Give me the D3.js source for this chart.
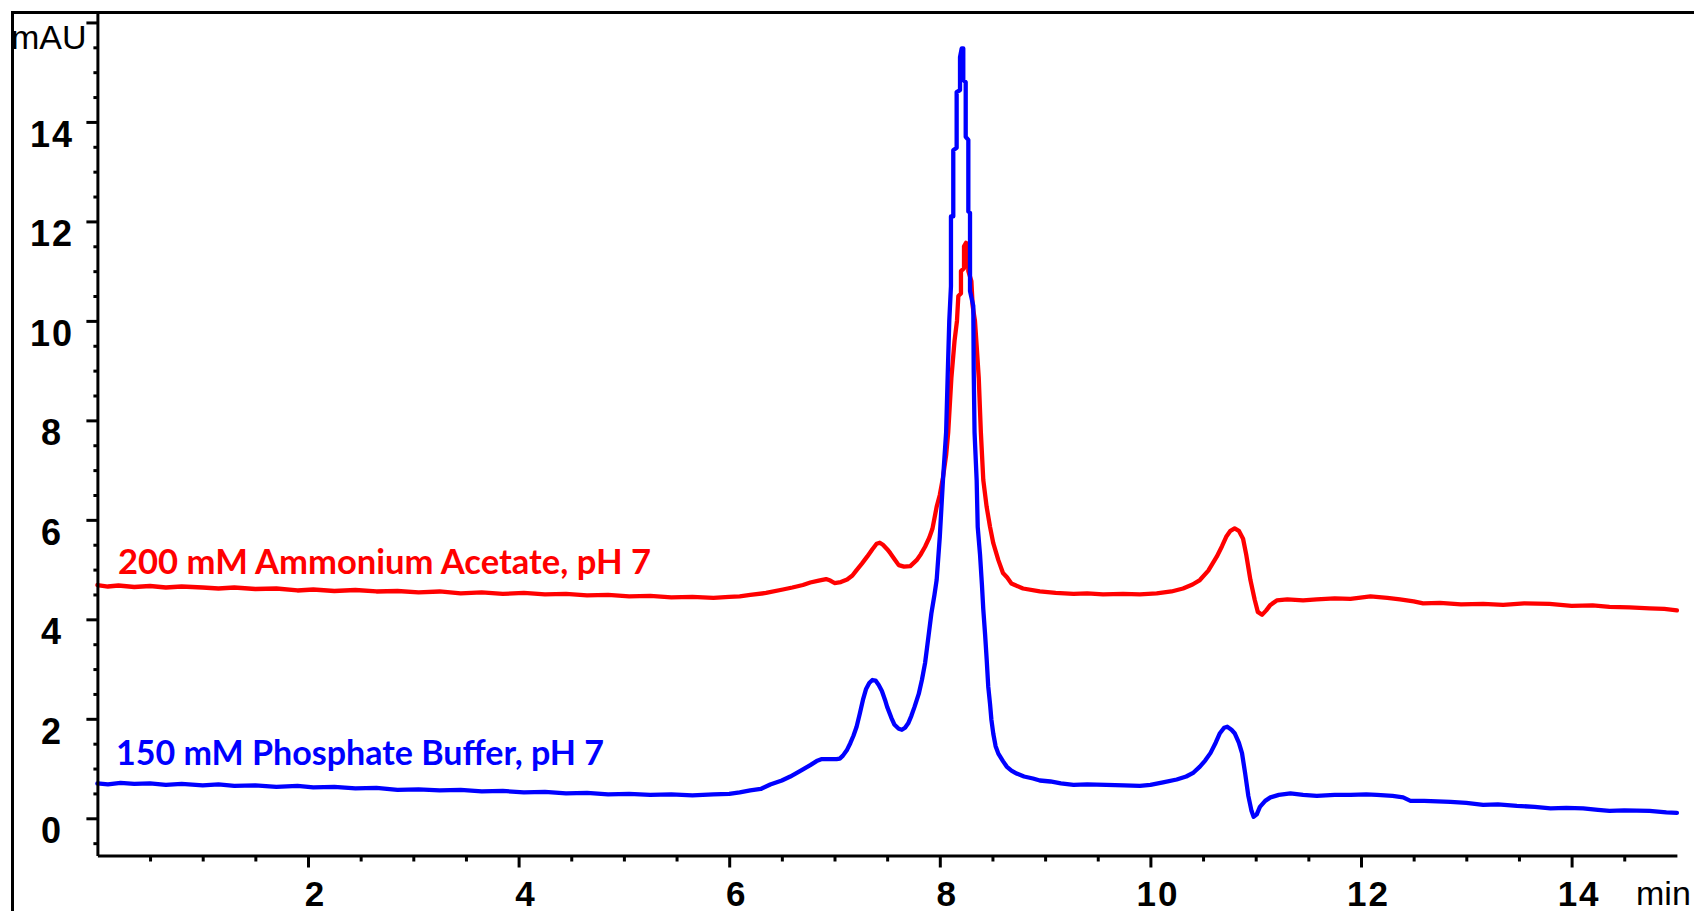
<!DOCTYPE html>
<html><head><meta charset="utf-8">
<script src="https://cdn.jsdelivr.net/npm/d3@7"></script>
<style>
html,body{margin:0;padding:0;background:#fff;}
svg{display:block;background:#fff;}
</style></head>
<body>
<svg id="chart" width="1694" height="911"></svg>
<script>
// ---- data (time in min, absorbance in mAU) ----
const acetateTrace = [
[0.00,4.69],[0.10,4.66],[0.20,4.68],[0.35,4.65],[0.50,4.67],[0.65,4.64],[0.80,4.66],[1.00,4.64],[1.15,4.62],[1.30,4.64],
[1.50,4.61],[1.70,4.62],[1.90,4.58],[2.05,4.60],[2.25,4.57],[2.45,4.59],[2.65,4.56],[2.85,4.57],[3.05,4.54],[3.25,4.56],
[3.45,4.52],[3.65,4.54],[3.85,4.51],[4.05,4.53],[4.25,4.50],[4.45,4.51],[4.65,4.48],[4.85,4.49],[5.05,4.46],[5.25,4.47],
[5.45,4.44],[5.65,4.45],[5.85,4.43],[6.00,4.45],[6.10,4.46],[6.20,4.49],[6.35,4.53],[6.51,4.60],[6.60,4.64],[6.70,4.69],
[6.77,4.74],[6.85,4.78],[6.92,4.81],[6.96,4.78],[7.00,4.73],[7.06,4.75],[7.12,4.80],[7.17,4.88],[7.21,4.99],[7.26,5.12],
[7.31,5.26],[7.36,5.41],[7.40,5.52],[7.43,5.54],[7.46,5.50],[7.50,5.41],[7.53,5.33],[7.57,5.21],[7.61,5.09],[7.66,5.06],
[7.72,5.07],[7.78,5.19],[7.82,5.31],[7.86,5.46],[7.90,5.64],[7.93,5.82],[7.97,6.26],[8.00,6.50],[8.03,6.85],[8.06,7.30],
[8.08,7.76],[8.11,8.85],[8.14,9.60],[8.163,10.0],[8.176,10.5],[8.201,10.55],[8.201,11.0],[8.23,11.06],[8.23,11.5],[8.249,11.57],
[8.271,11.5],[8.271,11.0],[8.300,10.8],[8.312,10.3],[8.334,10.0],[8.35,9.5],[8.37,8.85],[8.39,7.76],[8.413,6.80],[8.445,6.26],
[8.477,5.86],[8.508,5.53],[8.556,5.19],[8.60,4.93],[8.64,4.84],[8.68,4.72],[8.79,4.62],[8.95,4.56],[9.10,4.53],[9.27,4.51],
[9.40,4.52],[9.55,4.50],[9.74,4.51],[9.90,4.50],[10.06,4.52],[10.20,4.56],[10.31,4.62],[10.40,4.70],[10.47,4.79],[10.55,4.98],
[10.63,5.26],[10.68,5.47],[10.72,5.66],[10.76,5.78],[10.80,5.83],[10.84,5.78],[10.88,5.62],[10.91,5.30],[10.95,4.79],[10.99,4.40],
[11.02,4.15],[11.06,4.09],[11.10,4.18],[11.14,4.29],[11.20,4.38],[11.30,4.40],[11.45,4.38],[11.58,4.40],[11.75,4.42],[11.90,4.41],
[12.09,4.46],[12.25,4.43],[12.37,4.40],[12.50,4.36],[12.59,4.32],[12.75,4.33],[12.95,4.30],[13.16,4.31],[13.35,4.29],[13.55,4.32],
[13.79,4.31],[14.00,4.27],[14.20,4.28],[14.36,4.25],[14.55,4.24],[14.74,4.22],[14.88,4.21],[15.00,4.18]
];
const phosphateTrace = [
[0.00,0.70],[0.10,0.68],[0.22,0.71],[0.35,0.69],[0.50,0.70],[0.65,0.67],[0.80,0.69],[1.00,0.66],[1.15,0.68],[1.30,0.65],
[1.50,0.66],[1.70,0.63],[1.90,0.65],[2.05,0.62],[2.25,0.63],[2.45,0.60],[2.65,0.61],[2.85,0.57],[3.05,0.58],[3.25,0.56],
[3.45,0.57],[3.65,0.54],[3.85,0.55],[4.05,0.52],[4.25,0.53],[4.45,0.50],[4.65,0.51],[4.85,0.48],[5.05,0.49],[5.25,0.47],
[5.45,0.48],[5.65,0.46],[5.85,0.48],[6.00,0.49],[6.10,0.52],[6.20,0.56],[6.30,0.59],[6.39,0.68],[6.50,0.76],[6.58,0.84],
[6.68,0.96],[6.77,1.07],[6.83,1.15],[6.88,1.19],[6.95,1.19],[7.02,1.19],[7.05,1.20],[7.08,1.26],[7.12,1.38],[7.15,1.51],
[7.18,1.66],[7.21,1.84],[7.24,2.10],[7.27,2.38],[7.30,2.60],[7.33,2.72],[7.36,2.78],[7.39,2.77],[7.42,2.68],[7.45,2.56],
[7.48,2.38],[7.50,2.24],[7.54,2.02],[7.57,1.88],[7.61,1.80],[7.64,1.78],[7.67,1.82],[7.70,1.91],[7.73,2.06],[7.76,2.24],
[7.80,2.50],[7.83,2.78],[7.86,3.12],[7.88,3.45],[7.92,4.12],[7.95,4.50],[7.97,4.79],[8.00,5.66],[8.03,6.80],[8.06,7.76],
[8.075,8.9],[8.09,10.0],[8.106,10.7],[8.106,12.1],[8.128,12.1],[8.128,13.43],[8.16,13.48],[8.16,14.6],[8.192,14.64],[8.192,15.3],
[8.208,15.48],[8.223,15.48],[8.223,14.84],[8.246,14.8],[8.246,13.7],[8.271,13.64],[8.271,12.2],[8.287,12.17],[8.287,10.6],[8.318,10.3],
[8.322,9.0],[8.33,7.76],[8.35,6.80],[8.36,5.86],[8.382,5.30],[8.40,4.70],[8.413,4.20],[8.43,3.70],[8.445,3.20],[8.46,2.65],
[8.477,2.30],[8.49,1.98],[8.508,1.70],[8.53,1.45],[8.556,1.30],[8.60,1.15],[8.635,1.04],[8.68,0.96],[8.73,0.90],[8.80,0.84],
[8.885,0.80],[8.95,0.76],[9.05,0.74],[9.15,0.70],[9.27,0.67],[9.40,0.68],[9.58,0.67],[9.75,0.66],[9.90,0.65],[10.00,0.67],
[10.12,0.72],[10.25,0.78],[10.34,0.84],[10.41,0.92],[10.47,1.04],[10.52,1.16],[10.57,1.31],[10.62,1.52],[10.66,1.71],[10.70,1.82],
[10.73,1.84],[10.77,1.78],[10.80,1.71],[10.84,1.52],[10.87,1.31],[10.90,0.90],[10.93,0.45],[10.96,0.15],[10.98,0.03],[11.01,0.08],
[11.04,0.23],[11.09,0.35],[11.14,0.42],[11.22,0.47],[11.33,0.50],[11.45,0.47],[11.58,0.45],[11.75,0.47],[11.90,0.47],[12.05,0.48],
[12.15,0.47],[12.30,0.45],[12.40,0.42],[12.47,0.35],[12.60,0.35],[12.85,0.33],[13.00,0.31],[13.16,0.27],[13.30,0.28],[13.48,0.25],
[13.65,0.23],[13.80,0.20],[13.95,0.21],[14.11,0.20],[14.25,0.17],[14.36,0.15],[14.50,0.16],[14.74,0.15],[14.90,0.12],[15.00,0.11]
];
const xMajorTicks = [2,4,6,8,10,12,14];
const xMinorTicks = [0.5,1,1.5,2.5,3,3.5,4.5,5,5.5,6.5,7,7.5,8.5,9,9.5,10.5,11,11.5,12.5,13,13.5,14.5];
const yMajorTicks = [0,2,4,6,8,10,12,14,16];
const yLabelTicks = [0,2,4,6,8,10,12,14];
const yMinorTicks = [-0.5,0.5,1,1.5,2.5,3,3.5,4.5,5,5.5,6.5,7,7.5,8.5,9,9.5,10.5,11,11.5,12.5,13,13.5,14.5,15,15.5];
const seriesNames = ["200 mM Ammonium Acetate, pH 7", "150 mM Phosphate Buffer, pH 7"];
const seriesColors = ["#ff0000", "#0000ff"];
const yUnit = "mAU";
const xUnit = "min";

// ---- layout ----
const svg = d3.select("#chart");
const x = d3.scaleLinear().domain([0, 15]).range([97.4, 1676.9]);
const y = d3.scaleLinear().domain([-0.75, 16.2]).range([855.6, 12.5]);
const axisFont = "'Liberation Sans', Arial, sans-serif";

// outer frame (left and top edges)
svg.append("path").attr("d", "M12.5,911 L12.5,12.5 L1694,12.5")
  .attr("fill", "none").attr("stroke", "#000").attr("stroke-width", 3);

// traces
const line = d3.line().x(d => x(d[0])).y(d => y(d[1]));
[acetateTrace, phosphateTrace].forEach((tr, i) => {
  svg.append("path").datum(tr).attr("d", line)
    .attr("fill", "none").attr("stroke", seriesColors[i])
    .attr("stroke-width", 4.3).attr("stroke-linejoin", "round").attr("stroke-linecap", "round");
});

// x axis
const xg = svg.append("g").attr("transform", "translate(0,855.5)");
xg.call(d3.axisBottom(x).tickValues(xMinorTicks).tickSize(6).tickSizeOuter(0).tickFormat(""));
xg.append("g").call(d3.axisBottom(x).tickValues(xMajorTicks).tickSize(12).tickSizeOuter(0))
  .call(g => g.select(".domain").remove());
xg.selectAll(".domain").attr("stroke", "#000").attr("stroke-width", 3);
xg.selectAll(".tick line").attr("stroke", "#000").attr("stroke-width", 3);
xg.selectAll(".tick text")
  .attr("font-family", axisFont).attr("font-weight", "bold")
  .attr("font-size", 35).attr("fill", "#000").attr("letter-spacing", "2px")
  .attr("x", 7).attr("y", 50).attr("dy", 0);

// y axis
const yg = svg.append("g").attr("transform", "translate(97.4,0)");
yg.call(d3.axisLeft(y).tickValues(yMinorTicks).tickSize(4).tickSizeOuter(0).tickFormat(""));
yg.append("g").call(d3.axisLeft(y).tickValues(yMajorTicks).tickSize(11).tickSizeOuter(0)
    .tickFormat(d => yLabelTicks.includes(d) ? d : ""))
  .call(g => g.select(".domain").remove());
yg.selectAll(".domain").attr("stroke", "#000").attr("stroke-width", 3);
yg.selectAll(".tick line").attr("stroke", "#000").attr("stroke-width", 3);
yg.selectAll(".tick text")
  .attr("font-family", axisFont).attr("font-weight", "bold")
  .attr("font-size", 36).attr("fill", "#000").attr("letter-spacing", "2px")
  .attr("text-anchor", "middle").attr("x", 52 - 97.4).attr("dy", "0.68em");

// unit labels
svg.append("text").attr("x", 11).attr("y", 49).text(yUnit)
  .attr("font-family", axisFont).attr("font-size", 34).attr("fill", "#000");
svg.append("text").attr("x", 1636).attr("y", 905).text(xUnit)
  .attr("font-family", axisFont).attr("font-size", 34).attr("fill", "#000");

// series labels
const labelPos = [[118, 574, 533], [116, 765, 488]];
seriesNames.forEach((name, i) => {
  svg.append("text").attr("x", labelPos[i][0]).attr("y", labelPos[i][1]).text(name)
    .attr("font-family", "Lato, 'Open Sans', sans-serif").attr("font-weight", "bold")
    .attr("font-size", 33.5).attr("fill", seriesColors[i])
    .attr("textLength", labelPos[i][2]).attr("lengthAdjust", "spacingAndGlyphs");
});
</script>
</body></html>
